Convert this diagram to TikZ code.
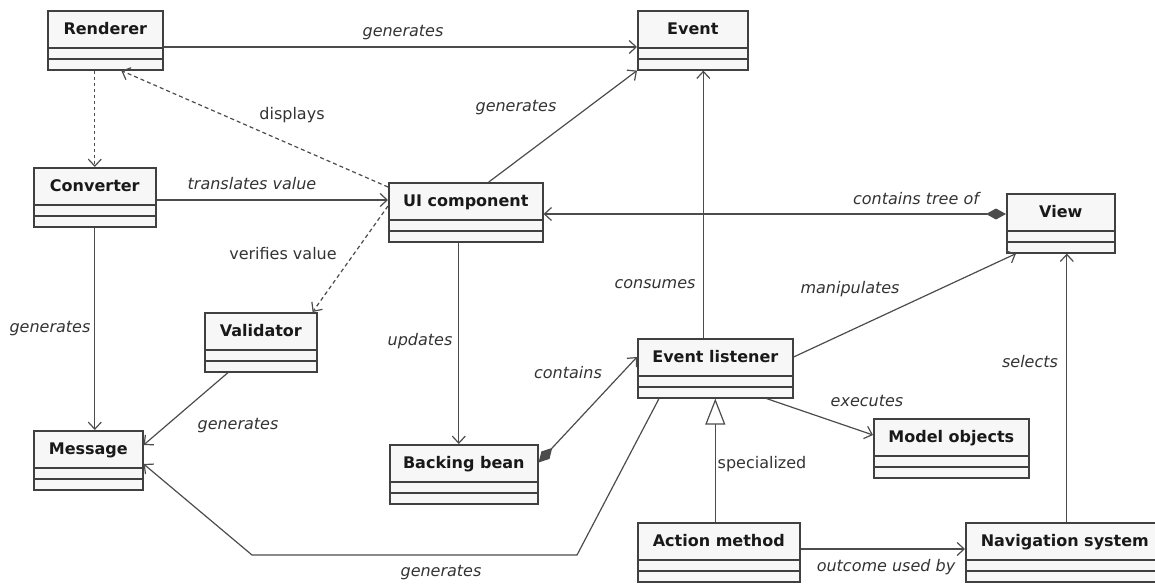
\documentclass[tikz,border=0pt]{standalone}
\usepackage{fontspec}
\setmainfont{DejaVu Sans}
\usetikzlibrary{arrows.meta}
\tikzset{umlclass/.style={draw=black!75, line width=0.8pt, fill=black!3,
    inner ysep=0pt, inner xsep=2pt, anchor=north west,
    text height=12pt, text depth=17.5pt,
    font=\fontsize{8}{9}\selectfont\bfseries, text=black!90,
    minimum width=#1*0.5pt,
    path picture={\draw[black!75, line width=0.8pt]
        ([yshift=-18.5pt]path picture bounding box.north west) -- ([yshift=-18.5pt]path picture bounding box.north east)
        ([yshift=5.5pt]path picture bounding box.south west) -- ([yshift=5.5pt]path picture bounding box.south east);}}
}
\tikzset{assoc/.style={draw=black!70, line width=0.6pt, -{Straight Barb[length=3.5pt,width=6.5pt]}}}
\tikzset{depend/.style={assoc, dash pattern=on 2pt off 1.5pt}}
\tikzset{comp/.style={assoc, {Diamond[length=10pt,width=5.5pt]}-{Straight Barb[length=3.5pt,width=6.5pt]}}}
\tikzset{gen/.style={assoc, -{Triangle[open,length=13pt,width=10pt]}}}
\tikzset{lbl/.style={font=\fontsize{8}{9}\selectfont, text=black!80}}
\tikzset{rel/.style={lbl, font=\fontsize{8}{9}\selectfont\itshape}}

\begin{document}
\begin{tikzpicture}[x=0.5pt,y=-0.5pt]
                \useasboundingbox (0,0) rectangle (1155,583);

                % Classes
                \node[umlclass=115] (ren) at (47,10) {Renderer};
                \node[umlclass=110] (ev) at (637,10) {Event};
                \node[umlclass=122] (conv) at (33,167) {Converter};
                \node[umlclass=154] (ui) at (388,182) {UI component};
                \node[umlclass=108] (view) at (1006,193) {View};
                \node[umlclass=112] (val) at (204,312) {Validator};
                \node[umlclass=109] (msg) at (33,430) {Message};
                \node[umlclass=148] (bb) at (389,444) {Backing bean};
                \node[umlclass=155] (el) at (637,338) {Event listener};
                \node[umlclass=155] (mo) at (873,418) {Model objects};
                \node[umlclass=162] (am) at (637,522) {Action method};
                \node[umlclass=198] (nav) at (965,522) {Navigation system};

                % Relations
                \draw[assoc] ([yshift=-18.5pt]ren.north east) -- ([yshift=-18.5pt]ev.north west);
                \draw[assoc, dash pattern=on 1.5pt off 1.5pt] (ren.south -| conv.north) -- (conv.north);
                \draw[depend] ([yshift=-2.5pt]ui.north west) -- ([xshift=8pt]ren.south);
                \draw[assoc] (conv.east |- 0,200) -- (ui.west |- 0,200);
                \draw[depend] ([yshift=-12pt]ui.north west) -- ([xshift=-2.5pt]val.north east);
                \draw[assoc] ([xshift=11.5pt]ui.north) -- (ev.south west);
                \draw[comp] (view.west |- 0,214) -- (ui.east |- 0,214);
                \draw[assoc] ([xshift=-6pt]el.north) -- ([xshift=-6pt]el.north |- ev.south);
                \draw[assoc] ([yshift=-9.5pt]el.north east) -- ([xshift=5pt]view.south west);
                \draw[assoc] ([xshift=1pt]nav.north) -- ([xshift=1pt]nav.north |- view.south);
                \draw[assoc] ([xshift=-3.5pt]ui.south) -- ([xshift=-3.5pt]ui.south |- bb.north);
                \draw[comp] ([yshift=-9.25pt]bb.north east) -- ([yshift=-9.5pt]el.north west);
                \draw[assoc] ([xshift=12pt]val.south west) -- ([yshift=-7.5pt]msg.north east);
                \draw[assoc] (conv.south) -- (conv.south |- msg.north);
                \draw[assoc] ([xshift=11pt]el.south west) -- (577,555) -- (252,555) -- ([yshift=-17pt]msg.north east);
                \draw[gen] (am.north -| el.south) -- (el.south);
                \draw[assoc] ([xshift=-13.5pt]el.south east) -- ([yshift=-8.5pt]mo.north west);
                \draw[assoc] ([yshift=-13.5pt]am.north east) -- ([yshift=-13.5pt]nav.north west);

                % Labels
                \node[rel] (l-rengen) at (403,33) {generates};
                \node[lbl] (l-disp) at (292,115) {displays};
                \node[rel] (l-trans) at (252,184) {translates value};
                \node[lbl] (l-verif) at (283,254) {verifies value};
                \node[rel] (l-uigen) at (516,108) {generates};
                \node[rel] (l-tree) at (916,199) {contains tree of};
                \node[rel] (l-cons) at (655,284) {consumes};
                \node[rel] (l-manip) at (850,289) {manipulates};
                \node[rel] (l-sel) at (1030,362) {selects};
                \node[rel] (l-upd) at (420,341) {updates};
                \node[rel] (l-cont) at (568,373) {contains};
                \node[rel] (l-convgen) at (50,329) {generates};
                \node[rel] (l-valgen) at (238,426) {generates};
                \node[rel] (l-elgen) at (441,573) {generates};
                \node[lbl] (l-spec) at (762,464) {specialized};
                \node[rel] (l-exec) at (867,401) {executes};
                \node[rel] (l-out) at (886,567) {outcome used by};
            \end{tikzpicture}
\end{document}
